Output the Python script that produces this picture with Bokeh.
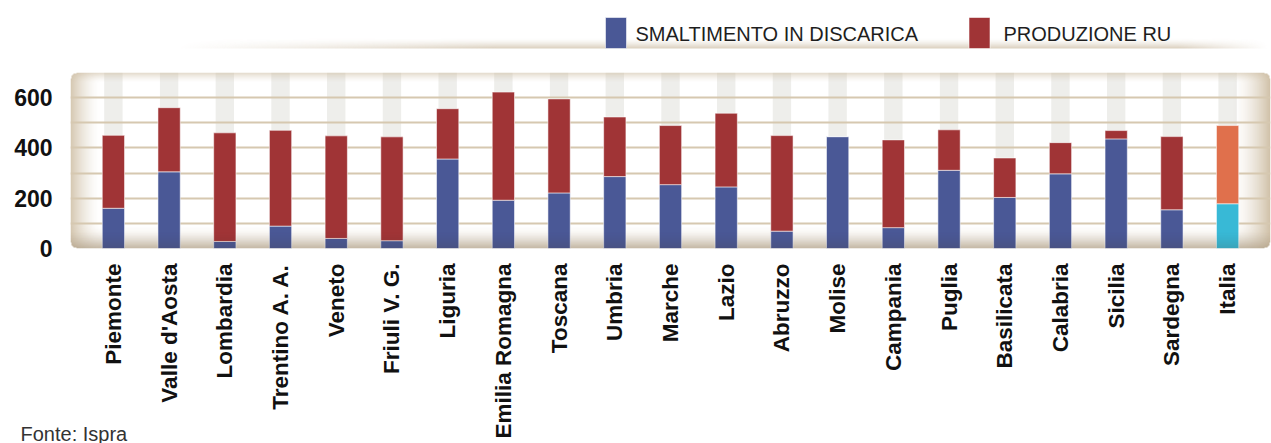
import math
import numpy as np
from bokeh.plotting import figure
from bokeh.layouts import column
from bokeh.models import FactorRange, Range1d, FixedTicker, ColumnDataSource
from bokeh.core.properties import value
from bokeh.embed import file_html
from bokeh.resources import INLINE

# Municipal waste per inhabitant (kg/year): landfill disposal vs total production
regioni = ["Piemonte", "Valle d'Aosta", "Lombardia", "Trentino A. A.", "Veneto",
           "Friuli V. G.", "Liguria", "Emilia Romagna", "Toscana", "Umbria",
           "Marche", "Lazio", "Abruzzo", "Molise", "Campania", "Puglia",
           "Basilicata", "Calabria", "Sicilia", "Sardegna"]
produzione_ru = [450, 560, 460, 470, 448, 444, 556, 622, 595, 523,
                 489, 538, 449, 445, 432, 472, 360, 421, 469, 445]
smaltimento_discarica = [160, 305, 28, 89, 40, 31, 356, 192, 221, 286,
                         254, 245, 69, 445, 83, 311, 203, 297, 436, 154]

nazione = ["Italia"]
produzione_italia = [489]
smaltimento_italia = [178]

y_ticks = [0, 200, 400, 600]
y_minor_ticks = [100, 300, 500]

legend_labels = ["SMALTIMENTO IN DISCARICA", "PRODUZIONE RU"]
fonte = "Fonte: Ispra"

categorie = regioni + nazione

BLU = "#4a5896"
ROSSO = "#a03436"
CIANO = "#38b9d6"
ARANCIO = "#e0704c"
FONT = "Liberation Sans"

WIDTH, HEIGHT = 1271, 443
PAD = 0.27          # padding on each side of the category axis
Y_MAX = 700


def rgba_image(alpha, rgb):
    """Pack a 2-D alpha mask and one colour into an RGBA image for image_rgba."""
    img = np.empty(alpha.shape, dtype=np.uint32)
    v = img.view(dtype=np.uint8).reshape(alpha.shape + (4,))
    v[..., 0], v[..., 1], v[..., 2] = rgb
    v[..., 3] = (np.clip(alpha, 0, 1) * 255).astype(np.uint8)
    return img


# ---------------------------------------------------------------- main chart
p = figure(x_range=FactorRange(factors=categorie, range_padding=PAD,
                               range_padding_units="absolute"),
           y_range=Range1d(0, Y_MAX),
           width=WIDTH, height=HEIGHT,
           output_backend="svg", toolbar_location=None,
           min_border_left=70, min_border_right=1,
           min_border_top=72, min_border_bottom=195)
p.outline_line_color = None
p.background_fill_color = "white"
p.border_fill_color = "white"

# pale columns behind each bar
p.vbar(x=categorie, top=Y_MAX, bottom=0, width=0.33,
       fill_color="#eeeeeb", line_color=None, level="image")

# soft beige shading along the edges of the plotting box
H, W = 176, 1200
yy, xx = np.mgrid[0:H, 0:W].astype(float)
edges = [(xx, 30, 0.85), (W - 1 - xx, 38, 0.95), (yy, 24, 0.7), (H - 1 - yy, 10, 0.55)]
keep = np.ones((H, W))
for d, w, s in edges:
    keep *= 1 - s * np.clip(1 - d / w, 0, 1) ** 1.6
alpha = 1 - keep
r = 6.0
corner_mask = np.zeros((H, W), dtype=bool)
for cx, cy in [(r, r), (W - 1 - r, r), (r, H - 1 - r), (W - 1 - r, H - 1 - r)]:
    near = (np.abs(xx - cx) <= r) & (np.abs(yy - cy) <= r)
    outside = np.hypot(xx - cx, yy - cy) > r
    beyond = (np.sign(xx - cx) == np.sign(cx - W / 2)) & (np.sign(yy - cy) == np.sign(cy - H / 2))
    corner_mask |= near & outside & beyond
alpha[corner_mask] = 0
p.image_rgba(image=[rgba_image(alpha, (206, 190, 164))], x=-PAD, y=0,
             dw=len(categorie) + 2 * PAD, dh=Y_MAX, level="image")

src_reg = ColumnDataSource(dict(regione=regioni, prod=produzione_ru, smalt=smaltimento_discarica))
src_it = ColumnDataSource(dict(regione=nazione, prod=produzione_italia, smalt=smaltimento_italia))

bar_style = dict(width=0.4, line_color="white", line_alpha=0.55, line_width=1)
p.vbar(x="regione", top="smalt", bottom=0, source=src_reg, fill_color=BLU, **bar_style)
p.vbar(x="regione", top="prod", bottom="smalt", source=src_reg, fill_color=ROSSO, **bar_style)
p.vbar(x="regione", top="smalt", bottom=0, source=src_it, fill_color=CIANO, **bar_style)
p.vbar(x="regione", top="prod", bottom="smalt", source=src_it, fill_color=ARANCIO, **bar_style)

# darker band along the floor of the box, over the bars as well
floor = 0.16 * np.clip(1 - yy / 18, 0, 1) ** 1.5
floor[corner_mask] = 0
p.image_rgba(image=[rgba_image(floor, (70, 52, 32))], x=-PAD, y=0,
             dw=len(categorie) + 2 * PAD, dh=Y_MAX)

# grid
p.xgrid.grid_line_color = None
p.ygrid.ticker = FixedTicker(ticks=y_ticks, minor_ticks=y_minor_ticks)
p.ygrid.grid_line_color = "#d6c8b0"
p.ygrid.grid_line_width = 2
p.ygrid.minor_grid_line_color = "#d6c8b0"
p.ygrid.minor_grid_line_width = 2

# axes
p.yaxis.ticker = FixedTicker(ticks=y_ticks, minor_ticks=[])
for ax in (p.xaxis[0], p.yaxis[0]):
    ax.axis_line_color = None
    ax.major_tick_line_color = None
    ax.minor_tick_line_color = None
    ax.major_tick_out = 0
    ax.major_tick_in = 0
    ax.major_label_text_font = FONT
    ax.major_label_text_font_style = "bold"
    ax.major_label_text_color = "#111111"
p.xaxis.major_label_text_font_size = "22.5px"
p.yaxis.major_label_text_font_size = "23px"
p.xaxis.major_label_orientation = math.pi / 2
p.xaxis.major_label_standoff = 15
p.yaxis.major_label_standoff = 18

# ------------------------------------------- transparent layer for the notes
# pixel coordinates, y measured upward from the bottom of the page
deco = figure(width=WIDTH, height=HEIGHT, x_range=Range1d(0, WIDTH), y_range=Range1d(0, HEIGHT),
              x_axis_type=None, y_axis_type=None, min_border=0,
              output_backend="svg", toolbar_location=None,
              margin=(-HEIGHT, 0, 0, 0))
deco.outline_line_color = None
deco.background_fill_color = None
deco.border_fill_color = None
deco.grid.visible = False

# the two figures are stacked, so their frames must not be aligned
p.frame_align = False
deco.frame_align = False

# shaded rule under the legend
SW, SH = 1093, 10
ry, rx = np.mgrid[0:SH, 0:SW].astype(float)
vert = (1 - ry / SH) ** 1.5
horiz = np.clip(rx / 320, 0, 1) * np.clip((SW - 1 - rx) / 90, 0, 1)
deco.image_rgba(image=[rgba_image(0.6 * vert * horiz, (196, 178, 150))],
                x=175, y=HEIGHT - 48, dw=SW, dh=SH)

# legend keys
deco.rect(x=[615.5, 979], y=[HEIGHT - 32.5] * 2, width=21, height=31,
          fill_color=[BLU, ROSSO], line_color="white", line_alpha=0.55)
deco.text(x=[635, 1003], y=[HEIGHT - 33] * 2, text=legend_labels,
          text_font=value(FONT), text_font_size="20px", text_color="#1e1e1e",
          text_baseline="alphabetic")

deco.text(x=[20], y=[HEIGHT - 422], text=[fonte], text_font=value(FONT),
          text_font_size="20px", text_color="#333333", text_baseline="top")

open("out.html", "w").write(file_html(column(p, deco, spacing=0), INLINE))
